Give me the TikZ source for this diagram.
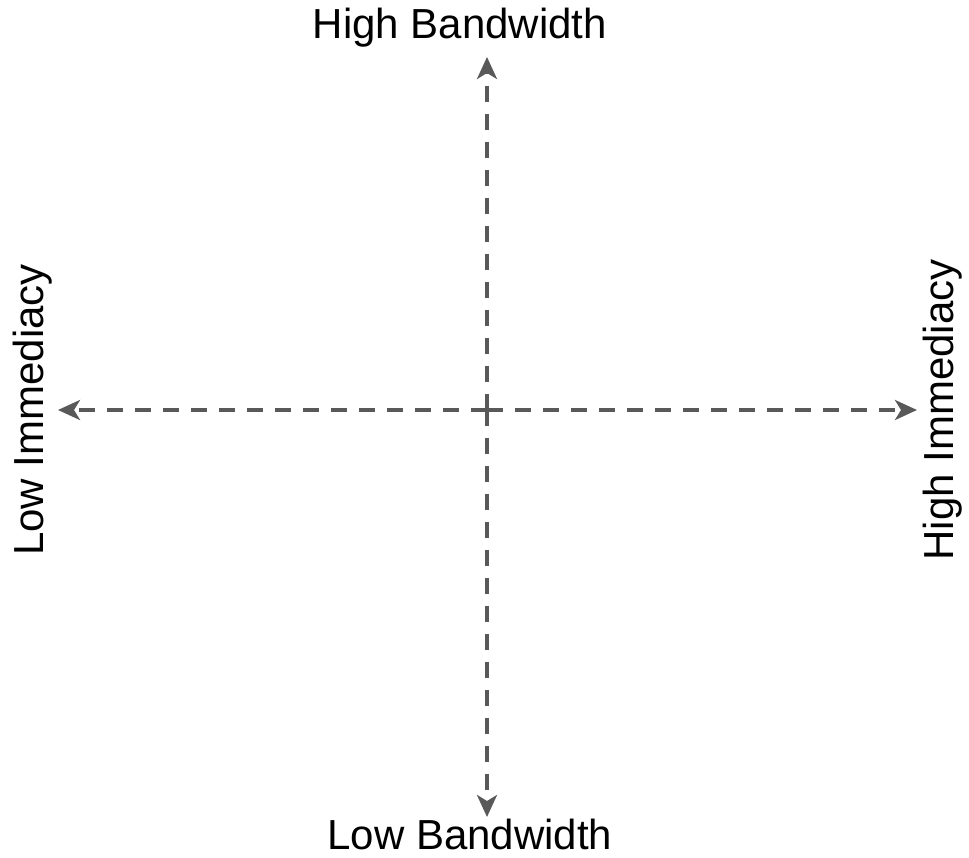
\documentclass[tikz,border=0pt]{standalone}
\usepackage{fontspec}
\setmainfont{Liberation Sans}
\usetikzlibrary{arrows.meta}
\begin{document}
\begin{tikzpicture}[x=1pt,y=-1pt,
  axisline/.style={draw=black!65, line width=3.5pt, dash pattern=on 16pt off 12pt,
    -{Stealth[length=22pt,width=20pt,inset=6pt]}},
  label/.style={font=\fontsize{42}{48}\selectfont, text=black, inner sep=0pt, anchor=base}]
  \useasboundingbox (0,0) rectangle (969,858);
  \coordinate (c) at (487,410);
  \coordinate (top) at (487,57);
  \coordinate (bot) at (487,817);
  \coordinate (lft) at (58,410);
  \coordinate (rgt) at (917,410);
  \draw[axisline] (c) -- (top);
  \draw[axisline] (c) -- (bot);
  \draw[axisline] (c) -- (lft);
  \draw[axisline] (c) -- (rgt);
  \node[label] (hb) at (460,39) {High Bandwidth};
  \node[label] (lb) at (470,849) {Low Bandwidth};
  \node[label, rotate=90] (li) at (43,410) {Low Immediacy};
  \node[label, rotate=90] (hi) at (953,410) {High Immediacy};
\end{tikzpicture}
\end{document}
